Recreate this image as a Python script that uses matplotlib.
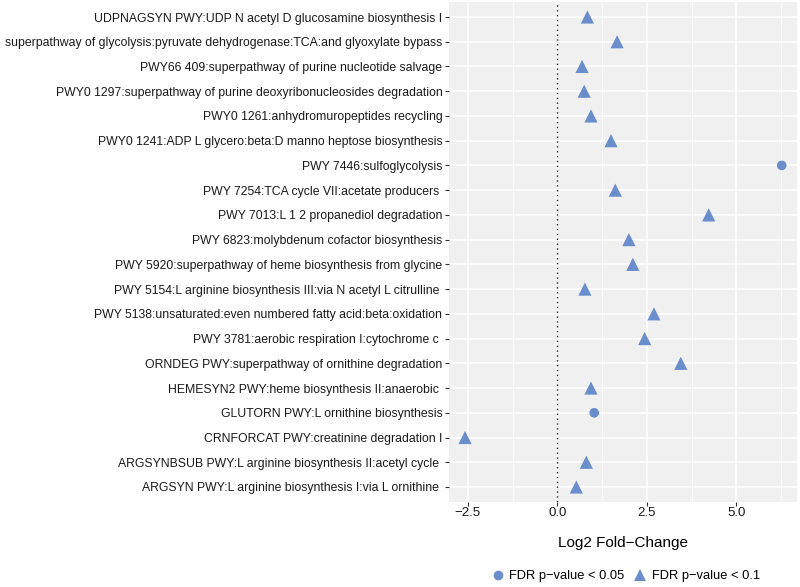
import matplotlib
matplotlib.use("Agg")
import matplotlib.pyplot as plt
from matplotlib.lines import Line2D
from matplotlib.ticker import MultipleLocator

plt.rcParams['font.family'] = ['Liberation Sans', 'DejaVu Sans']

pathways = [
    "UDPNAGSYN PWY:UDP N acetyl D glucosamine biosynthesis I",
    "superpathway of glycolysis:pyruvate dehydrogenase:TCA:and glyoxylate bypass",
    "PWY66 409:superpathway of purine nucleotide salvage",
    "PWY0 1297:superpathway of purine deoxyribonucleosides degradation",
    "PWY0 1261:anhydromuropeptides recycling",
    "PWY0 1241:ADP L glycero:beta:D manno heptose biosynthesis",
    "PWY 7446:sulfoglycolysis",
    "PWY 7254:TCA cycle VII:acetate producers ",
    "PWY 7013:L 1 2 propanediol degradation",
    "PWY 6823:molybdenum cofactor biosynthesis",
    "PWY 5920:superpathway of heme biosynthesis from glycine",
    "PWY 5154:L arginine biosynthesis III:via N acetyl L citrulline ",
    "PWY 5138:unsaturated:even numbered fatty acid:beta:oxidation",
    "PWY 3781:aerobic respiration I:cytochrome c ",
    "ORNDEG PWY:superpathway of ornithine degradation",
    "HEMESYN2 PWY:heme biosynthesis II:anaerobic ",
    "GLUTORN PWY:L ornithine biosynthesis",
    "CRNFORCAT PWY:creatinine degradation I",
    "ARGSYNBSUB PWY:L arginine biosynthesis II:acetyl cycle ",
    "ARGSYN PWY:L arginine biosynthesis I:via L ornithine ",
]
log2fc = [0.84, 1.67, 0.69, 0.75, 0.94, 1.50, 6.27, 1.62, 4.23, 2.00,
          2.11, 0.77, 2.70, 2.44, 3.45, 0.94, 1.03, -2.58, 0.81, 0.53]
significance = ["0.1", "0.1", "0.1", "0.1", "0.1", "0.1", "0.05", "0.1", "0.1", "0.1",
                "0.1", "0.1", "0.1", "0.1", "0.1", "0.1", "0.05", "0.1", "0.1", "0.1"]
x_ticks = [-2.5, 0.0, 2.5, 5.0]

color = '#6A8DCC'
fig = plt.figure(figsize=(8, 5.87), dpi=100)
ax = fig.add_axes([0.5616, 0.1451, 0.9959 - 0.5616, 0.9963 - 0.1451])
ax.set_facecolor('#F0F0F0')

n = len(pathways)
ypos = [n - 1 - i for i in range(n)]
for x, y, s in zip(log2fc, ypos, significance):
    if s == "0.05":
        ax.scatter([x], [y], marker='o', s=48, color=color, edgecolors='none', zorder=3)
    else:
        ax.scatter([x], [y], marker='^', s=90, color=color, edgecolors='none', zorder=3)

ax.axvline(0, color='#222222', linestyle=(0, (1, 2.5)), linewidth=1.0, zorder=2)

ax.set_xlim(-3.02, 6.69)
ax.set_ylim(-0.6, n - 1 + 0.6)
ax.set_yticks(ypos)
ax.set_yticklabels(pathways)
ax.set_xticks(x_ticks)
ax.set_xticklabels([f"{t:.1f}".replace('-', '\u2212') for t in x_ticks])
ax.xaxis.set_minor_locator(MultipleLocator(1.25))

ax.grid(which='major', color='white', linewidth=1.1, zorder=0)
ax.grid(which='minor', axis='x', color='white', linewidth=0.55, zorder=0)
ax.set_axisbelow(True)
for sp in ax.spines.values():
    sp.set_visible(False)
ax.tick_params(axis='y', which='major', length=3, color='#333333', labelsize=8.8, labelcolor='#1A1A1A', pad=2)
ax.tick_params(axis='x', which='major', length=3, color='#333333', labelsize=9.5, labelcolor='#1A1A1A', pad=1)
ax.tick_params(axis='both', which='minor', length=0)

ax.set_xlabel("Log2 Fold\u2212Change", fontsize=11, color='black', labelpad=12)

handles = [
    Line2D([], [], marker='o', linestyle='none', color=color, markersize=7, markeredgewidth=0, label='FDR p\u2212value < 0.05'),
    Line2D([], [], marker='^', linestyle='none', color=color, markersize=9, markeredgewidth=0, label='FDR p\u2212value < 0.1'),
]
fig.legend(handles=handles, loc='center', bbox_to_anchor=(0.7812, 1 - 576 / 587), ncol=2, frameon=False,
           fontsize=9.3, handletextpad=0.3, columnspacing=0.6, handlelength=1.2)

fig.savefig('out.png', dpi=100)
